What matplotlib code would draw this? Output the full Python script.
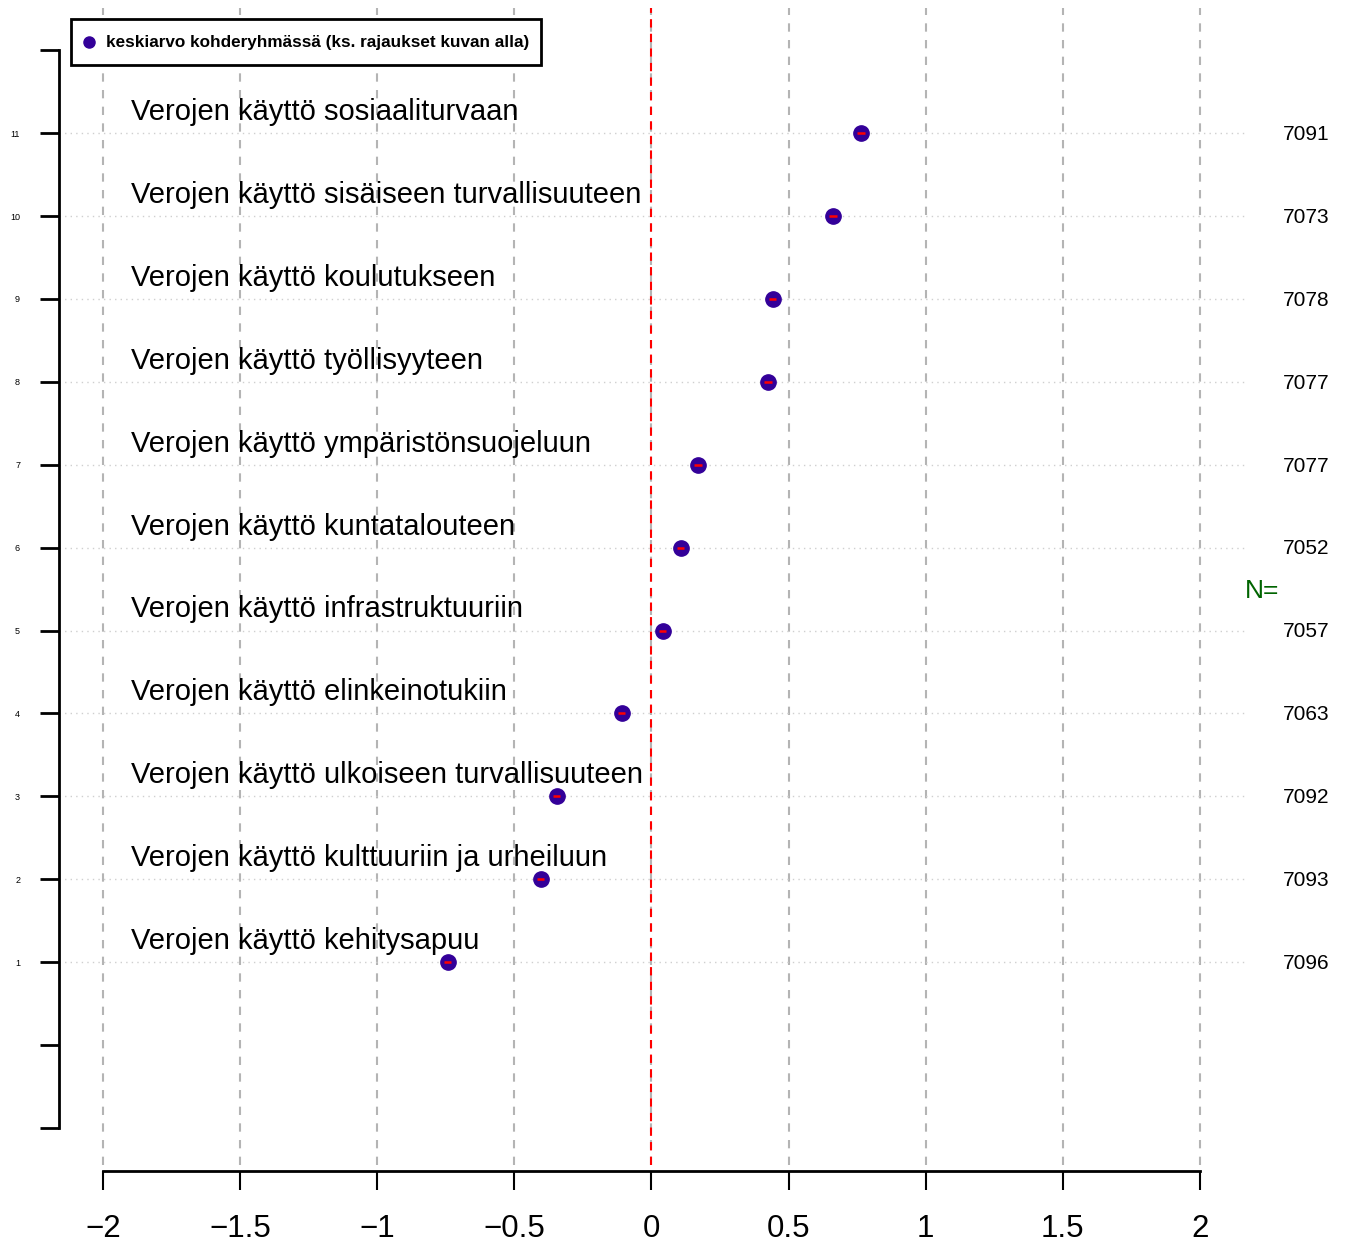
import matplotlib
matplotlib.use('Agg')
import matplotlib.pyplot as plt
from matplotlib.patches import Rectangle

plt.rcParams['font.family'] = ['Liberation Sans', 'DejaVu Sans']

# rivit alhaalta ylös (1..11)
labels = [
    'Verojen käyttö kehitysapuu',
    'Verojen käyttö kulttuuriin ja urheiluun',
    'Verojen käyttö ulkoiseen turvallisuuteen',
    'Verojen käyttö elinkeinotukiin',
    'Verojen käyttö infrastruktuuriin',
    'Verojen käyttö kuntatalouteen',
    'Verojen käyttö ympäristönsuojeluun',
    'Verojen käyttö työllisyyteen',
    'Verojen käyttö koulutukseen',
    'Verojen käyttö sisäiseen turvallisuuteen',
    'Verojen käyttö sosiaaliturvaan',
]
means = [-0.742, -0.403, -0.345, -0.108, 0.042, 0.107, 0.170, 0.425, 0.443, 0.662, 0.764]
ci_half = [0.013, 0.013, 0.013, 0.013, 0.013, 0.013, 0.013, 0.013, 0.013, 0.013, 0.013]
n_values = [7096, 7093, 7092, 7063, 7057, 7052, 7077, 7077, 7078, 7073, 7091]
rows = list(range(1, len(labels) + 1))
x_ticks = [-2, -1.5, -1, -0.5, 0, 0.5, 1, 1.5, 2]

W, H = 1348, 1244
fig = plt.figure(figsize=(W / 100, H / 100), dpi=100)
ax = fig.add_axes([59 / W, (H - 1165) / H, (1246 - 59) / W, (1165 - 8) / H])
ax.set_xlim(-2.16, 2.168)
ax.set_ylim(-1.447, 12.51)

# ruudukko
for xt in x_ticks:
    ax.axvline(xt, color='#b4b4b4', lw=1.5, ls=(0, (4, 4)), zorder=1)
for r in rows:
    ax.axhline(r, color='#cfcfcf', lw=1, ls=(0, (1, 3)), zorder=1)
ax.axvline(0, color='red', lw=1.5, ls=(0, (4, 3)), zorder=2)

# pisteet
ax.plot(means, rows, 'o', color='#330099', ms=11, zorder=3)
ax.errorbar(means, rows, xerr=ci_half, fmt='none', ecolor='red', elinewidth=1.8,
            capsize=0, zorder=4)

# muuttujien nimet
for r, lab in zip(rows, labels):
    ax.text(-1.897, r + 0.255, lab, fontsize=21, va='center', ha='left', zorder=5)

# N-arvot
for r, n in zip(rows, n_values):
    ax.text(2.387, r - 0.015, str(n), fontsize=15, va='center', ha='center', clip_on=False)
ax.text(2.226, 5.478, 'N=', fontsize=19, color='#006400', va='center', ha='center',
        clip_on=False)

# akselit
for s in ['top', 'right']:
    ax.spines[s].set_visible(False)
ax.spines['left'].set_bounds(-1, 12)
ax.spines['left'].set_linewidth(2)
ax.spines['bottom'].set_bounds(-2, 2)
ax.spines['bottom'].set_linewidth(2)
ax.spines['bottom'].set_position(('outward', 4))

ax.set_yticks(list(range(-1, 13)))
ax.set_yticklabels(['', ''] + [str(r) for r in rows] + [''], fontsize=6.5)
ax.tick_params(axis='y', length=14, width=2, pad=14)
ax.set_xticks(x_ticks)
ax.set_xticklabels(['\u22122', '\u22121.5', '\u22121', '\u22120.5', '0', '0.5', '1', '1.5', '2'],
                   fontsize=22.5)
ax.tick_params(axis='x', length=14, width=1.5, pad=17)

# selite (piirretty käsin kuvan pikseleihin)
fig.patches.append(Rectangle((71 / W, 1 - 65 / H), (541 - 71) / W, (65 - 19) / H,
                             transform=fig.transFigure, facecolor='white',
                             edgecolor='black', lw=2, zorder=10))
fig.lines.append(plt.Line2D([89 / W], [1 - 42 / H], marker='o', color='#330099',
                            ms=8, transform=fig.transFigure, zorder=11))
fig.text(106 / W, 1 - 43 / H, 'keskiarvo kohderyhmässä (ks. rajaukset kuvan alla)',
         fontsize=12.3, fontweight='bold', va='center', ha='left', zorder=11)

fig.savefig('out.png', dpi=100)
